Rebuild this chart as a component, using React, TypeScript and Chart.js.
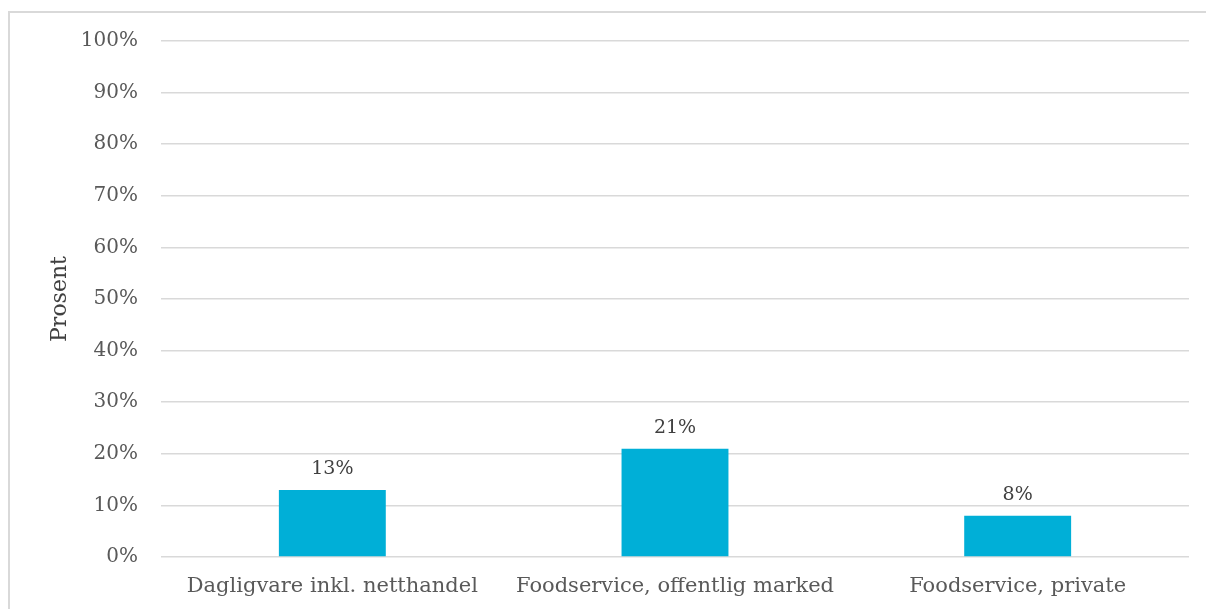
import React, { useEffect, useRef } from "react";
import { Chart, registerables } from "chart.js";

Chart.register(...registerables);

const categories = [
  "Dagligvare inkl. netthandel",
  "Foodservice, offentlig marked",
  "Foodservice, private",
];
const values = [0.13, 0.21, 0.08];
const yTicks = [0, 0.1, 0.2, 0.3, 0.4, 0.5, 0.6, 0.7, 0.8, 0.9, 1.0];
const yTitle = "Prosent";

const FONT = "'DejaVu Serif', serif";

const dataLabels = {
  id: "dataLabels",
  afterDatasetsDraw(chart: any) {
    const ctx = chart.ctx;
    const meta = chart.getDatasetMeta(0);
    ctx.save();
    ctx.font = `19px ${FONT}`;
    ctx.fillStyle = "#404040";
    ctx.textAlign = "center";
    ctx.textBaseline = "bottom";
    meta.data.forEach((bar: any, i: number) => {
      ctx.fillText(Math.round(values[i] * 100) + "%", bar.x, bar.y - 11);
    });
    ctx.restore();
  },
};

export default function App() {
  const ref = useRef<HTMLCanvasElement>(null);
  useEffect(() => {
    if (!ref.current) return;
    const chart = new Chart(ref.current, {
      type: "bar",
      data: {
        labels: categories,
        datasets: [
          {
            data: values,
            backgroundColor: "#00AFD7",
            barPercentage: 0.312,
            categoryPercentage: 1,
          },
        ],
      },
      options: {
        animation: false,
        responsive: false,
        devicePixelRatio: 1,
        layout: { padding: { top: 41, right: 25, left: 0, bottom: 0 } },
        plugins: { legend: { display: false }, tooltip: { enabled: false } },
        scales: {
          x: {
            grid: { display: false, drawTicks: false },
            border: { display: false },
            ticks: {
              font: { family: FONT, size: 21 },
              color: "#595959",
              padding: 17,
              maxRotation: 0,
              autoSkip: false,
            },
            afterFit(scale: any) {
              scale.height = 52;
            },
          },
          y: {
            min: 0,
            max: 1,
            afterBuildTicks(scale: any) {
              scale.ticks = yTicks.map((v) => ({ value: v }));
            },
            grid: { color: "#D9D9D9", lineWidth: 1.5, drawTicks: false },
            border: { display: false },
            ticks: {
              font: { family: FONT, size: 20 },
              color: "#595959",
              padding: 23,
              callback: (v: any) => Math.round(Number(v) * 100) + "%",
            },
            title: {
              display: true,
              text: yTitle,
              font: { family: FONT, size: 22 },
              color: "#404040",
              padding: { top: 47, bottom: 0 },
            },
            afterFit(scale: any) {
              scale.width = 161;
            },
          },
        },
      },
      plugins: [dataLabels],
    });
    return () => chart.destroy();
  }, []);

  return (
    <div style={{ position: "relative", width: 1214, height: 609 }}>
      <div
        style={{
          position: "absolute",
          left: 0,
          top: 3,
          width: 1230,
          height: 640,
          border: "2px solid #D9D9D9",
          boxSizing: "border-box",
        }}
      />
      <canvas
        ref={ref}
        width={1214}
        height={609}
        style={{ position: "fixed", left: 0, top: 0, width: 1214, height: 609 }}
      />
    </div>
  );
}
